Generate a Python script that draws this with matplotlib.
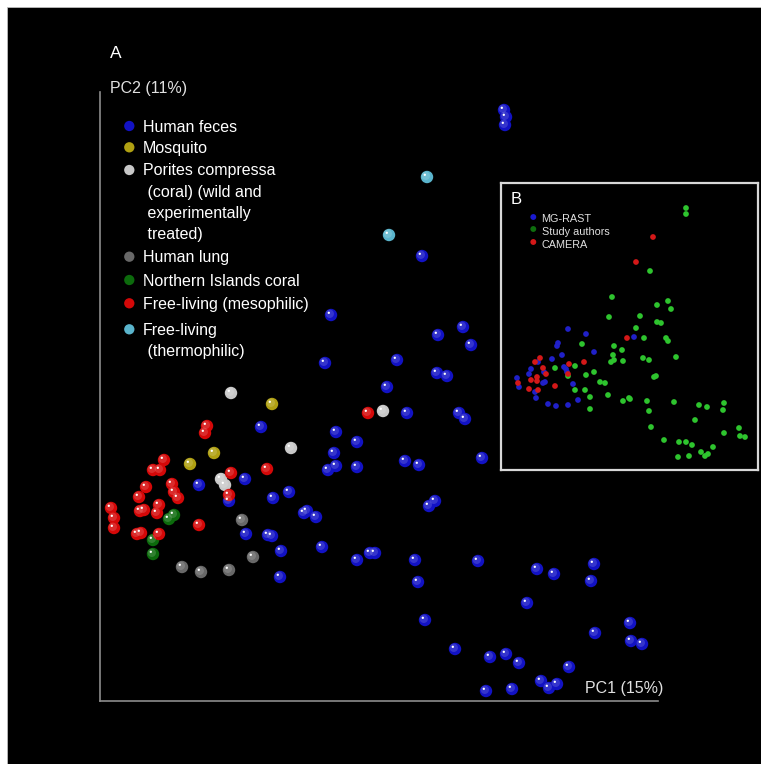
import matplotlib
matplotlib.use("Agg")
import matplotlib.pyplot as plt
from matplotlib.patches import Rectangle
from matplotlib.transforms import offset_copy

plt.rcParams['font.family'] = ['Liberation Sans', 'DejaVu Sans']

W, H = 761, 764

# ---- panel A: PCA scores (PC1, PC2) per sample group ----
feces_pc1 = [4.04, 4.06, 4.05, 3.22, 2.31, 3.63, 3.38, 3.71, 2.97, 2.25, 3.37, 3.47,
             2.87, 3.07, 3.59, 3.65, 1.61, 2.36, 2.57, 2.34, 3.82, 3.05, 3.19, 2.36,
             2.28, 2.57, 1.45, 0.99, 1.89, 1.73, 1.29, 3.35, 3.29, 2.07, 2.04, 2.16,
             1.46, 1.68, 1.72, 2.22, 1.81, 2.70, 2.75, 2.57, 3.15, 3.78, 4.94, 4.37,
             4.54, 1.80, 4.91, 3.18, 4.27, 3.25, 5.30, 4.95, 5.31, 5.42, 3.55, 4.06,
             3.90, 4.19, 4.69, 4.41, 4.57, 4.49, 4.12, 3.86]
feces_pc2 = [5.91, 5.84, 5.76, 4.45, 3.86, 3.74, 3.66, 3.56, 3.41, 3.38, 3.28, 3.25,
             3.14, 2.88, 2.88, 2.82, 2.74, 2.69, 2.59, 2.48, 2.43, 2.40, 2.36, 2.35,
             2.31, 2.34, 2.22, 2.16, 2.09, 2.03, 2.00, 2.00, 1.95, 1.90, 1.88, 1.84,
             1.67, 1.66, 1.65, 1.54, 1.50, 1.48, 1.48, 1.41, 1.41, 1.40, 1.37, 1.32,
             1.27, 1.24, 1.20, 1.19, 0.98, 0.81, 0.78, 0.68, 0.60, 0.57, 0.52, 0.47,
             0.44, 0.38, 0.34, 0.20, 0.17, 0.13, 0.12, 0.10]

mosquito_pc1 = [1.72, 1.14, 0.90]
mosquito_pc2 = [2.97, 2.48, 2.37]

porites_pc1 = [1.31, 2.83, 1.91, 1.21, 1.25]
porites_pc2 = [3.08, 2.90, 2.53, 2.22, 2.16]

lung_pc1 = [1.42, 1.53, 0.82, 1.01, 1.29]
lung_pc2 = [1.81, 1.44, 1.34, 1.29, 1.31]

ni_coral_pc1 = [0.74, 0.69, 0.53, 0.53]
ni_coral_pc2 = [1.86, 1.82, 1.61, 1.47]

meso_pc1 = [2.68, 1.07, 1.05, 0.64, 0.53, 0.60, 1.31, 1.67, 0.46, 0.72, 0.39, 0.74,
            0.78, 1.29, 0.11, 0.14, 0.14, 0.40, 0.44, 0.59, 0.57, 0.99, 0.37, 0.41, 0.59]
meso_pc2 = [2.88, 2.75, 2.68, 2.41, 2.31, 2.31, 2.28, 2.32, 2.14, 2.17, 2.04, 2.09,
            2.03, 2.06, 1.93, 1.83, 1.73, 1.90, 1.91, 1.96, 1.88, 1.76, 1.67, 1.68, 1.67]

thermo_pc1 = [3.27, 2.89]
thermo_pc2 = [5.24, 4.66]

groups = [
    ("Human feces", feces_pc1, feces_pc2, "#1212c4"),
    ("Mosquito", mosquito_pc1, mosquito_pc2, "#b0a012"),
    ("Porites compressa\n (coral) (wild and\n experimentally\n treated)", porites_pc1, porites_pc2, "#c8c8c8"),
    ("Human lung", lung_pc1, lung_pc2, "#686868"),
    ("Northern Islands coral", ni_coral_pc1, ni_coral_pc2, "#0c6a0c"),
    ("Free-living (mesophilic)", meso_pc1, meso_pc2, "#d40808"),
    ("Free-living\n (thermophilic)", thermo_pc1, thermo_pc2, "#5ab4cc"),
]

# ---- panel B: same samples coloured by data source ----
mgrast_pc1 = [0.67, 0.85, 0.57, 0.56, 1.33, 0.93, 0.61, 0.51, 0.63, 0.65, 0.66, 0.37,
              0.30, 0.28, 0.43, 0.44, 0.42, 0.72, 0.16, 0.18, 0.34, 0.35, 0.77, 0.47,
              0.55, 0.67]
mgrast_pc2 = [1.41, 1.36, 1.27, 1.24, 1.33, 1.18, 1.15, 1.11, 1.03, 1.01, 0.98, 1.08,
              1.01, 0.96, 0.98, 0.88, 0.87, 0.86, 0.92, 0.83, 0.78, 0.72, 0.70, 0.66,
              0.64, 0.65]

authors_pc1 = [1.85, 1.85, 1.49, 1.11, 1.08, 1.56, 1.67, 1.70, 1.39, 1.56, 1.60, 1.35,
               1.43, 1.65, 1.67, 0.81, 1.13, 1.21, 1.12, 1.13, 1.10, 1.22, 1.42, 1.48,
               1.75, 0.74, 0.54, 0.67, 0.85, 0.93, 1.53, 1.55, 0.99, 1.04, 0.74, 0.84,
               0.89, 1.07, 1.28, 1.29, 1.22, 1.46, 1.73, 0.89, 1.48, 1.98, 2.06, 2.23,
               2.22, 1.94, 1.50, 2.23, 2.38, 2.39, 2.44, 1.63, 1.78, 1.85, 1.91, 2.12,
               2.00, 2.04, 2.07, 1.88, 1.77]
authors_pc2 = [2.62, 2.56, 1.99, 1.73, 1.53, 1.65, 1.69, 1.61, 1.54, 1.48, 1.47, 1.42,
               1.32, 1.32, 1.29, 1.26, 1.24, 1.20, 1.15, 1.10, 1.08, 1.09, 1.12, 1.10,
               1.13, 1.04, 1.02, 0.94, 0.95, 0.98, 0.93, 0.94, 0.88, 0.87, 0.80, 0.80,
               0.73, 0.75, 0.72, 0.71, 0.69, 0.69, 0.68, 0.61, 0.59, 0.65, 0.63, 0.67,
               0.60, 0.50, 0.43, 0.37, 0.42, 0.34, 0.33, 0.30, 0.28, 0.28, 0.25, 0.23,
               0.18, 0.14, 0.16, 0.14, 0.13]

camera_pc1 = [1.52, 1.35, 1.26, 0.83, 0.68, 0.39, 0.34, 0.42, 0.45, 0.36, 0.36, 0.30,
              0.67, 0.54, 0.28, 0.37, 0.17]
camera_pc2 = [2.33, 2.08, 1.32, 1.08, 1.06, 1.12, 1.08, 1.02, 0.96, 0.93, 0.89, 0.90,
              0.96, 0.84, 0.81, 0.80, 0.87]

sources = [
    ("MG-RAST", mgrast_pc1, mgrast_pc2, "#2020c8", "#1a1ad0"),
    ("Study authors", authors_pc1, authors_pc2, "#2ec42e", "#0e6e0e"),
    ("CAMERA", camera_pc1, camera_pc2, "#d41818", "#d41818"),
]


def fx(px):
    return px / W


def fy(py):
    return 1 - py / H


fig = plt.figure(figsize=(W / 100, H / 100), dpi=100, facecolor="white")
fig.patches.append(Rectangle((fx(7), 0), 1 - fx(7), fy(7), transform=fig.transFigure,
                             facecolor="black", edgecolor="#bbbbbb", linewidth=0.6, zorder=-10))


def ball(ax, x, y, color, s, transform=None):
    # shaded sphere look: body, soft lighter cap, white specular dot
    base = ax.transData if transform is None else transform
    ax.scatter(x, y, s=s, color=color, edgecolors="none", clip_on=False, zorder=3,
               transform=base)
    ax.scatter(x, y, s=s * 0.45, color="white", alpha=0.15, edgecolors="none",
               clip_on=False, zorder=4,
               transform=offset_copy(base, fig, x=-1.2, y=1.2, units="dots"))
    ax.scatter(x, y, s=s * 0.035, color="white", edgecolors="none", clip_on=False, zorder=5,
               transform=offset_copy(base, fig, x=-2.2, y=2.2, units="dots"))


# main panel axes (spines are the PC axes)
ax = fig.add_axes([fx(100), fy(701), fx(658) - fx(100), fy(92) - fy(701)])
ax.set_facecolor("none")
ax.set_xlim(0, 5.58)
ax.set_ylim(0, 6.09)
for side in ["top", "right"]:
    ax.spines[side].set_visible(False)
for side in ["left", "bottom"]:
    ax.spines[side].set_color("#8c8c8c")
    ax.spines[side].set_linewidth(1.2)
ax.set_xticks([])
ax.set_yticks([])

for name, xs, ys, col in groups:
    ball(ax, xs, ys, col, 80)

fig.text(fx(110), fy(53), "A", color="white", fontsize=12.5, va="center", ha="left")
fig.text(fx(110), fy(88), "PC2 (11%)", color="#e0e0e0", fontsize=11.5, va="center", ha="left")
fig.text(fx(585), fy(688), "PC1 (15%)", color="#e0e0e0", fontsize=11.5, va="center", ha="left")

# legend for panel A
leg_y = [126, 147.3, 170, 256.7, 280, 303.3, 329.3]
for (name, xs, ys, col), y in zip(groups, leg_y):
    ax.scatter([fx(129.3)], [fy(y)], s=55, color=col, edgecolors="none",
               transform=fig.transFigure, clip_on=False, zorder=3)
    fig.text(fx(143), fy(y - 6.5), name, color="white", fontsize=11.5, va="top", ha="left",
             linespacing=1.52)

# inset panel B
axb = fig.add_axes([fx(501), fy(470), fx(758) - fx(501), fy(183) - fy(470)])
axb.set_facecolor("black")
axb.set_xlim(0, 2.57)
axb.set_ylim(0, 2.87)
axb.set_xticks([])
axb.set_yticks([])
for side in axb.spines.values():
    side.set_color("#d8d8d8")
    side.set_linewidth(1.6)

for name, xs, ys, col, lcol in sources:
    axb.scatter(xs, ys, s=17, color=col, edgecolors="none", zorder=3)

fig.text(fx(511), fy(199), "B", color="white", fontsize=12, va="center", ha="left")
inset_leg_y = [218, 230, 243]
for (name, xs, ys, col, lcol), y in zip(sources, inset_leg_y):
    axb.scatter([fx(533.3)], [fy(y - 1)], s=18, color=lcol, edgecolors="none",
                transform=fig.transFigure, clip_on=False, zorder=3)
    fig.text(fx(541.5), fy(y + 1.5), name, color="#e0e0e0", fontsize=7.8, va="center", ha="left")

fig.savefig("out.png", dpi=100, facecolor="white")
